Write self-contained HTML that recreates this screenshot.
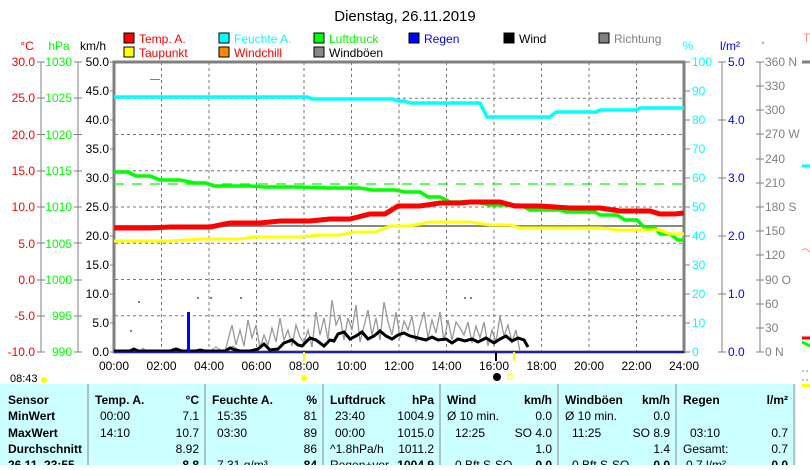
<!DOCTYPE html>
<html><head><meta charset="utf-8"><style>
body{margin:0;background:#fff;width:810px;height:465px;overflow:hidden;font-family:"Liberation Sans",sans-serif}
svg text{font-family:"Liberation Sans",sans-serif;font-size:12px}
</style></head><body>
<svg width="810" height="465" xmlns="http://www.w3.org/2000/svg">
<rect width="810" height="465" fill="#fff"/>
<text x="405" y="21" text-anchor="middle" font-size="15" style="font-size:15px">Dienstag, 26.11.2019</text>
<!-- legend -->
<g font-size="12">
<rect x="124" y="33" width="10" height="10" fill="#f00" stroke="#000"/><text x="139" y="43" fill="#f00">Temp. A.</text>
<rect x="124" y="47" width="10" height="10" fill="#ff0" stroke="#000"/><text x="139" y="57" fill="#f00">Taupunkt</text>
<rect x="219" y="33" width="10" height="10" fill="#0ff" stroke="#000"/><text x="234" y="43" fill="#0ff">Feuchte A.</text>
<rect x="219" y="47" width="10" height="10" fill="#f80" stroke="#000"/><text x="234" y="57" fill="#f00">Windchill</text>
<rect x="314" y="33" width="10" height="10" fill="#0f0" stroke="#000"/><text x="329" y="43" fill="#0f0">Luftdruck</text>
<rect x="314" y="47" width="10" height="10" fill="#888" stroke="#000"/><text x="329" y="57">Windböen</text>
<rect x="409" y="33" width="10" height="10" fill="#00f" stroke="#000"/><text x="424" y="43" fill="#00f">Regen</text>
<rect x="504" y="33" width="10" height="10" fill="#000" stroke="#000"/><text x="519" y="43">Wind</text>
<rect x="599" y="33" width="10" height="10" fill="#808080" stroke="#000"/><text x="614" y="43" fill="#808080">Richtung</text>
</g>
<text x="27" y="50" text-anchor="middle" fill="#f00">°C</text>
<text x="59" y="50" text-anchor="middle" fill="#0f0">hPa</text>
<text x="93" y="50" text-anchor="middle">km/h</text>
<text x="688" y="50" text-anchor="middle" fill="#0ff">%</text>
<text x="730" y="50" text-anchor="middle" fill="#00f">l/m²</text>
<text x="761" y="48" fill="#808080" style="font-size:9px">°</text>
<text x="803" y="42" fill="#f88">T</text>
<!-- grid -->
<g stroke="#777" stroke-dasharray="3,3" stroke-width="1">
<line x1="115" x2="684" y1="98.3" y2="98.3"/><line x1="115" x2="684" y1="134.5" y2="134.5"/><line x1="115" x2="684" y1="170.8" y2="170.8"/><line x1="115" x2="684" y1="207" y2="207"/><line x1="115" x2="684" y1="243.3" y2="243.3"/><line x1="115" x2="684" y1="279.5" y2="279.5"/><line x1="115" x2="684" y1="315.8" y2="315.8"/>
<line y1="62" y2="352" x1="161.5" x2="161.5"/><line y1="62" y2="352" x1="209" x2="209"/><line y1="62" y2="352" x1="256.5" x2="256.5"/><line y1="62" y2="352" x1="304" x2="304"/><line y1="62" y2="352" x1="351.5" x2="351.5"/><line y1="62" y2="352" x1="399" x2="399"/><line y1="62" y2="352" x1="446.5" x2="446.5"/><line y1="62" y2="352" x1="494" x2="494"/><line y1="62" y2="352" x1="541.5" x2="541.5"/><line y1="62" y2="352" x1="589" x2="589"/><line y1="62" y2="352" x1="636.5" x2="636.5"/>
</g>
<line x1="114" x2="684" y1="226" y2="226" stroke="#888" stroke-width="2"/>
<rect x="114" y="62" width="570" height="290" fill="none" stroke="#808080" stroke-width="3"/>
<!-- left axes -->
<g stroke="#808080"><line x1="41" x2="41" y1="62" y2="352"/><line x1="78" x2="78" y1="62" y2="352"/></g>
<g font-size="12" text-anchor="end">
<g fill="#f00"><text x="35" y="66">30.0</text><text x="35" y="102">25.0</text><text x="35" y="139">20.0</text><text x="35" y="175">15.0</text><text x="35" y="211">10.0</text><text x="35" y="248">5.0</text><text x="35" y="284">0.0</text><text x="35" y="320">-5.0</text><text x="35" y="356">-10.0</text></g>
<g fill="#0f0"><text x="72" y="66">1030</text><text x="72" y="102">1025</text><text x="72" y="139">1020</text><text x="72" y="175">1015</text><text x="72" y="211">1010</text><text x="72" y="248">1005</text><text x="72" y="284">1000</text><text x="72" y="320">995</text><text x="72" y="356">990</text></g>
<g><text x="109" y="66">50.0</text><text x="109" y="95">45.0</text><text x="109" y="124">40.0</text><text x="109" y="153">35.0</text><text x="109" y="182">30.0</text><text x="109" y="211">25.0</text><text x="109" y="240">20.0</text><text x="109" y="269">15.0</text><text x="109" y="298">10.0</text><text x="109" y="327">5.0</text><text x="109" y="356">0.0</text></g>
</g>
<g stroke="#808080">
<path d="M37 62h8M37 98h8M37 134.5h8M37 171h8M37 207h8M37 243h8M37 280h8M37 316h8M37 352h8"/>
<path d="M74 62h8M74 98h8M74 134.5h8M74 171h8M74 207h8M74 243h8M74 280h8M74 316h8M74 352h8"/>
<path d="M110 62h4M110 91h4M110 120h4M110 149h4M110 178h4M110 207h4M110 236h4M110 265h4M110 294h4M110 323h4M110 352h4"/>
</g>
<!-- right axes -->
<g stroke="#808080"><line x1="722" x2="722" y1="62" y2="352"/><line x1="760" x2="760" y1="62" y2="352"/>
<path d="M684 62h6M684 91h6M684 120h6M684 149h6M684 178h6M684 207h6M684 236h6M684 265h6M684 294h6M684 323h6M684 352h6"/>
<path d="M718 62h8M718 120h8M718 178h8M718 236h8M718 294h8M718 352h8"/>
<path d="M756 62h8M756 86h8M756 110h8M756 134h8M756 159h8M756 183h8M756 207h8M756 231h8M756 255h8M756 280h8M756 304h8M756 328h8M756 352h8"/></g>
<g font-size="12">
<g fill="#0ff"><text x="692" y="66">100</text><text x="692" y="95">90</text><text x="692" y="124">80</text><text x="692" y="153">70</text><text x="692" y="182">60</text><text x="692" y="211">50</text><text x="692" y="240">40</text><text x="692" y="269">30</text><text x="692" y="298">20</text><text x="692" y="327">10</text><text x="692" y="356">0</text></g>
<g fill="#00f"><text x="728" y="66">5.0</text><text x="728" y="124">4.0</text><text x="728" y="182">3.0</text><text x="728" y="240">2.0</text><text x="728" y="298">1.0</text><text x="728" y="356">0.0</text></g>
<g fill="#808080"><text x="765" y="66">360 N</text><text x="765" y="90">330</text><text x="765" y="114">300</text><text x="765" y="138">270 W</text><text x="765" y="163">240</text><text x="765" y="187">210</text><text x="765" y="211">180 S</text><text x="765" y="235">150</text><text x="765" y="259">120</text><text x="765" y="284">90  O</text><text x="765" y="308">60</text><text x="765" y="332">30</text><text x="765" y="356">0   N</text></g>
</g>
<g stroke-width="3" fill="none">
<path d="M802 62h8" stroke="#808080"/><path d="M802 166h8" stroke="#0ff"/><path d="M802 338h8" stroke="#f00"/><path d="M802 342l8 4" stroke="#0f0"/><path d="M802 250q4-3 8 2" stroke="#f88" stroke-width="1"/>
</g>
<!-- series -->
<path d="M114 184H684" stroke="#0f0" stroke-dasharray="10,8" stroke-width="1.3"/>
<path d="M114 97H308L312 99H393L398 101H404L410 103H480L487 117H550L556 112H596L600 110H636L640 108H684" fill="none" stroke="#0ff" stroke-width="3.5"/>
<path d="M114 172H128L136 176H150L160 180H180L195 183H206L214 186H250L265 187H300L330 188H360L372 190H395L405 192H420L428 197H440L450 202H475L490 205H520L530 210H560L566 212H595L600 215H617L625 220H637L645 228H655L660 234H670L678 240H684" fill="none" stroke="#0f0" stroke-width="3.5"/>
<path d="M114 241H170L200 239H240L255 237H300L320 235H340L355 232H375L390 226H410L430 222H470L490 225H510L520 228H600L620 230H660L670 234H684" fill="none" stroke="#ff0" stroke-width="3"/>
<path d="M114 228H150L170 227H210L230 223H260L280 221H310L330 219H350L370 214H385L398 206H420L440 203H460L470 202H500L515 206H540L570 208H600L620 211H650L660 214H675L684 213" fill="none" stroke="#f00" stroke-width="5"/>
<path d="M225 352L228 340L232 325L236 345L240 330L244 346L248 320L252 338L256 325L260 348L264 335L268 345L272 328L276 342L280 318L284 340L288 330L292 346L296 325L300 337L304 343L308 330L312 347L316 312L320 335L324 318L328 340L332 300L336 325L340 316L344 340L348 318L352 330L356 305L360 342L364 326L368 310L372 335L376 318L380 340L384 302L388 322L392 335L396 312L400 338L404 321L408 330L412 316L416 342L420 326L424 312L428 338L432 320L436 333L440 312L444 341L448 320L452 340L456 322L460 328L464 335L468 322L472 343L476 326L480 338L484 322L488 346L492 330L496 342L500 316L504 336L508 325L512 342L516 330L520 352" fill="none" stroke="#999" stroke-width="1.3"/>
<path d="M140 352L143 348L147 352M152 350L156 352M210 351L216 347L222 351M226 350L233 346L240 351" fill="none" stroke="#999" stroke-width="1"/>
<path d="M114 351H130L134 349L138 351H170L176 349L182 351H196L200 350L205 351H225L230 348L236 350L240 351H250L258 349L264 344L270 350L278 349L284 343L292 340L298 345L302 346L310 338L316 340L324 346L330 340L334 341L338 334L344 332L350 339L356 336L362 332L368 339L374 336L380 331L386 336L392 339L398 335L404 333L410 336L418 338L426 340L432 337L438 340L446 339L452 343L458 339L465 341L472 339L478 342L486 338L494 343L500 339L506 336L512 341L518 338L524 340L528 347" fill="none" stroke="#000" stroke-width="3"/>
<path d="M114 352H684" stroke="#00c" stroke-width="1.5"/>
<rect x="187" y="312" width="3" height="40" fill="#00f"/>
<g fill="#808080"><rect x="150" y="79" width="10" height="1"/><rect x="138" y="301" width="2" height="2"/><rect x="197" y="297" width="2" height="2"/><rect x="210" y="297" width="2" height="2"/><rect x="240" y="297" width="2" height="2"/><rect x="130" y="330" width="2" height="2"/><rect x="464" y="297" width="2" height="2"/><rect x="470" y="297" width="2" height="2"/></g>
<g font-size="12" text-anchor="middle">
<text x="114" y="370">00:00</text><text x="161.5" y="370">02:00</text><text x="209" y="370">04:00</text><text x="256.5" y="370">06:00</text><text x="304" y="370">08:00</text><text x="351.5" y="370">10:00</text><text x="399" y="370">12:00</text><text x="446.5" y="370">14:00</text><text x="494" y="370">16:00</text><text x="541.5" y="370">18:00</text><text x="589" y="370">20:00</text><text x="636.5" y="370">22:00</text><text x="684" y="370">24:00</text>
</g>
<rect x="303" y="352" width="2" height="9" fill="#ff0"/><rect x="513" y="352" width="2" height="9" fill="#ff0"/><rect x="495" y="352" width="2" height="9" fill="#000"/>
<text x="10" y="382" style="font-size:11px">08:43</text><circle cx="44" cy="380" r="3" fill="#ff0"/>
<circle cx="304" cy="378" r="3" fill="#ff0"/><circle cx="497" cy="377" r="4" fill="#000"/><rect x="508" y="374" width="4" height="5" fill="none" stroke="#ff0"/>
<!-- table -->
<rect x="0" y="384" width="796" height="81" fill="#ccffff"/>
<g stroke="#888"><line x1="88" x2="88" y1="384" y2="465"/><line x1="205" x2="205" y1="384" y2="465"/><line x1="323" x2="323" y1="384" y2="465"/><line x1="440" x2="440" y1="384" y2="465"/><line x1="558" x2="558" y1="384" y2="465"/><line x1="676" x2="676" y1="384" y2="465"/><line x1="794" x2="794" y1="384" y2="465"/></g>
<g font-size="12" font-weight="bold"><text x="8" y="404">Sensor</text><text x="8" y="420">MinWert</text><text x="8" y="437">MaxWert</text><text x="8" y="453">Durchschnitt</text><text x="8" y="469">26.11. 23:55</text>
<text x="95" y="404">Temp. A.</text><text x="212" y="404">Feuchte A.</text><text x="330" y="404">Luftdruck</text><text x="447" y="404">Wind</text><text x="565" y="404">Windböen</text><text x="683" y="404">Regen</text>
<g text-anchor="end"><text x="199" y="404">°C</text><text x="317" y="404">%</text><text x="434" y="404">hPa</text><text x="552" y="404">km/h</text><text x="670" y="404">km/h</text><text x="788" y="404">l/m²</text>
<text x="199" y="469">8.8</text><text x="317" y="469">84</text><text x="434" y="469">1004.9</text><text x="552" y="469">0.0</text><text x="670" y="469">0.0</text><text x="788" y="469">0.0</text></g></g>
<g font-size="12">
<text x="100" y="420">00:00</text><text x="100" y="437">14:10</text><text x="217" y="420">15:35</text><text x="217" y="437">03:30</text><text x="335" y="420">23:40</text><text x="335" y="437">00:00</text><text x="330" y="453">^1.8hPa/h</text>
<text x="447" y="420">Ø 10 min.</text><text x="455" y="437">12:25</text><text x="565" y="420">Ø 10 min.</text><text x="572" y="437">11:25</text><text x="690" y="437">03:10</text><text x="683" y="453">Gesamt:</text>
<text x="217" y="469">7.31 g/m³</text><text x="330" y="469">Regen+ver</text><text x="455" y="469">0 Bft S-SO</text><text x="572" y="469">0 Bft S-SO</text><text x="686" y="469">0.7 l/m²</text>
<g text-anchor="end">
<text x="199" y="420">7.1</text><text x="199" y="437">10.7</text><text x="199" y="453">8.92</text>
<text x="317" y="420">81</text><text x="317" y="437">89</text><text x="317" y="453">86</text>
<text x="434" y="420">1004.9</text><text x="434" y="437">1015.0</text><text x="434" y="453">1011.2</text>
<text x="552" y="420">0.0</text><text x="552" y="437">SO 4.0</text><text x="552" y="453">1.0</text>
<text x="670" y="420">0.0</text><text x="670" y="437">SO 8.9</text><text x="670" y="453">1.4</text>
<text x="788" y="437">0.7</text><text x="788" y="453">0.7</text></g></g>
<path d="M802 371h8M802 380h8" stroke="#888" stroke-dasharray="2,2"/><rect x="802" y="384" width="8" height="3" fill="#ff0"/>
</svg>
</body></html>
